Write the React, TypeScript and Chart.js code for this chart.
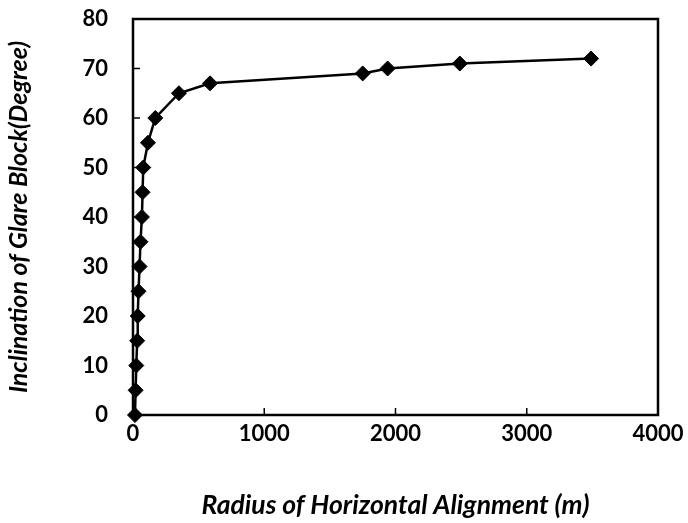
import React, { useEffect, useRef } from "react";
import { Chart, registerables } from "chart.js";

Chart.register(...registerables);

const radius: number[] = [15, 20, 25, 32, 36, 42, 50, 57, 68, 73, 78, 114, 170, 350, 587, 1750, 1940, 2490, 3490];
const inclination: number[] = [0, 5, 10, 15, 20, 25, 30, 35, 40, 45, 50, 55, 60, 65, 67, 69, 70, 71, 72];
const xTitle = "Radius of Horizontal Alignment (m)";
const yTitle = "Inclination of Glare Block(Degree)";

const FONT = "Lato";

const frame = {
  id: "frame",
  afterDraw(chart: any) {
    const { ctx, chartArea: a, scales } = chart;
    ctx.save();
    ctx.strokeStyle = "#000";
    ctx.lineWidth = 1.5;
    const tl = 7;
    ctx.beginPath();
    scales.x.ticks.forEach((t: any) => {
      const px = scales.x.getPixelForValue(t.value);
      ctx.moveTo(px, a.bottom);
      ctx.lineTo(px, a.bottom - tl);
    });
    scales.y.ticks.forEach((t: any) => {
      const py = scales.y.getPixelForValue(t.value);
      ctx.moveTo(a.left, py);
      ctx.lineTo(a.left + tl, py);
    });
    ctx.stroke();
    ctx.lineWidth = 2.5;
    ctx.strokeRect(a.left, a.top, a.right - a.left, a.bottom - a.top);
    ctx.restore();
  },
};

export default function App() {
  const ref = useRef<HTMLCanvasElement>(null);
  useEffect(() => {
    document.body.style.margin = "0";
    const chart = new Chart(ref.current!, {
      type: "scatter",
      data: {
        datasets: [
          {
            data: radius.map((r, i) => ({ x: r, y: inclination[i] })),
            showLine: true,
            borderColor: "#000",
            backgroundColor: "#000",
            borderWidth: 2.5,
            pointStyle: "rectRot",
            pointRadius: 7.5,
            pointBorderWidth: 1,
            pointBackgroundColor: "#000",
            pointBorderColor: "#000",
            clip: false as any,
          },
        ],
      },
      options: {
        responsive: false,
        animation: false,
        layout: { padding: { top: 19, right: 30, left: 0, bottom: 0 } },
        plugins: { legend: { display: false }, tooltip: { enabled: false } },
        scales: {
          x: {
            type: "linear",
            min: 0,
            max: 4000,
            ticks: {
              stepSize: 1000,
              color: "#000",
              padding: 6,
              font: { family: FONT, size: 22, weight: "bold" },
              callback: (v: any) => String(v),
            },
            grid: { display: false, drawTicks: false },
            border: { display: false },
            title: {
              display: true,
              text: xTitle,
              color: "#000",
              font: { family: FONT, size: 26.5, weight: "bold", style: "italic" },
              padding: { top: 20, bottom: 2 },
            },
            afterFit: (s: any) => {
              s.height = 523 - 415;
              s.paddingLeft = 0;
              s.paddingRight = 0;
            },
          },
          y: {
            type: "linear",
            min: 0,
            max: 80,
            ticks: { stepSize: 10, color: "#000", padding: 25, font: { family: FONT, size: 22, weight: "bold" } },
            grid: { display: false, drawTicks: false },
            border: { display: false },
            title: {
              display: true,
              text: yTitle,
              color: "#000",
              font: { family: FONT, size: 25, weight: "bold", style: "italic" },
              padding: { top: 4, bottom: 0 },
            },
            afterFit: (s: any) => {
              s.width = 133;
              s.paddingTop = 0;
              s.paddingBottom = 0;
            },
          },
        },
      },
      plugins: [frame],
    });
    return () => chart.destroy();
  }, []);
  return <canvas ref={ref} width={688} height={523} style={{ display: "block" }} />;
}
